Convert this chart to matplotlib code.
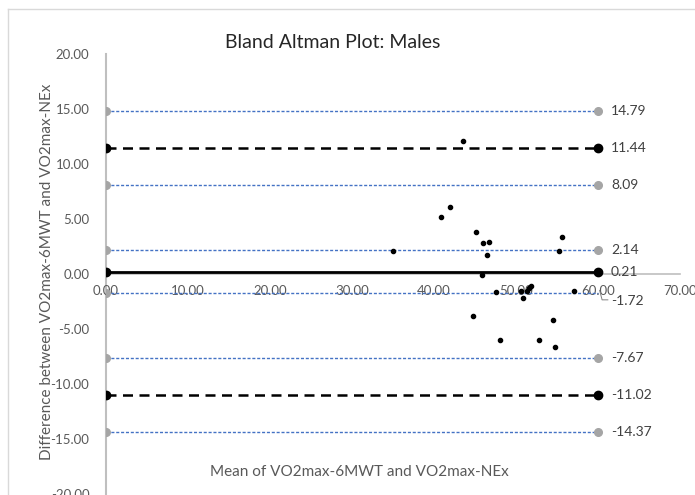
import matplotlib.pyplot as plt
from matplotlib.lines import Line2D
import numpy as np

plt.rcParams['font.family'] = ['Lato', 'DejaVu Sans']

# mean of the two methods / difference between them
mean_vals = [43.5, 40.8, 41.9, 45.1, 46.0, 46.7, 46.5, 35.0, 45.9, 55.6, 55.2, 47.6,
             50.6, 50.9, 51.3, 51.6, 51.8, 57.1, 44.7, 54.5, 48.0, 52.8, 54.8]
diff_vals = [12.12, 5.15, 6.09, 3.79, 2.85, 2.91, 1.70, 2.09, -0.09, 3.36, 2.09, -1.61,
             -1.52, -2.15, -1.52, -1.30, -1.09, -1.55, -3.79, -4.15, -5.97, -5.97, -6.61]

line_x = [0, 60]
bias = 0.21
loa = [11.44, -11.02]
ci_lines = [14.79, 8.09, 2.14, -1.72, -7.67, -14.37]

fig = plt.figure(figsize=(6.95, 4.95), dpi=100)
ax = fig.add_axes([106 / 695, 1 / 495, 574 / 695, 440 / 495])
ax.set_xlim(0, 70)
ax.set_ylim(-20, 20)

# chart border (Excel chart area, cropped on right/bottom)
fig.add_artist(Line2D([8 / 695, 1], [1 - 9 / 495, 1 - 9 / 495], color='#d9d9d9', lw=1))
fig.add_artist(Line2D([8 / 695, 8 / 695], [0, 1 - 9 / 495], color='#d9d9d9', lw=1))

blue = '#4472c4'
for v in ci_lines:
    ax.plot(line_x, [v, v], color=blue, lw=1.0, ls=(0, (2.2, 1.3)), zorder=2)
    if v == -1.72:
        ax.plot([0], [v], 'o', color='#a5a5a5', ms=5.5, zorder=3)
    else:
        ax.plot(line_x, [v, v], 'o', color='#a5a5a5', ms=5.5, zorder=3)

for v in loa:
    ax.plot(line_x, [v, v], color='black', lw=1.8, ls=(0, (4, 2.6)), zorder=3)
    ax.plot(line_x, [v, v], 'o', color='black', ms=6, zorder=4)

ax.plot(line_x, [bias, bias], color='black', lw=2, zorder=3)
ax.plot(line_x, [bias, bias], 'o', color='black', ms=6, zorder=4)

ax.scatter(mean_vals, diff_vals, s=9, color='black', zorder=5)

# value labels at right end
for v in ci_lines + loa + [bias]:
    if v == -1.72:
        continue
    ax.text(61.6, v, '%.2f' % v, va='center', ha='left', fontsize=10, color='#404040')
ax.text(61.6, -2.45, '-1.72', va='center', ha='left', fontsize=10, color='#404040')
ax.plot([60.2, 60.5, 61.2], [-1.5, -2.35, -2.35], color='#808080', lw=0.7)

# axes crossing at zero
for s in ['top', 'right']:
    ax.spines[s].set_visible(False)
ax.spines['left'].set_position(('data', 0))
ax.spines['bottom'].set_position(('data', 0))
ax.spines['left'].set_color('#bfbfbf')
ax.spines['bottom'].set_color('#bfbfbf')
ax.spines['left'].set_linewidth(1.5)
ax.spines['bottom'].set_linewidth(1.2)
ax.spines['left'].set_zorder(1)
ax.spines['bottom'].set_zorder(1)

ax.set_xticks(np.arange(0, 71, 10))
ax.set_yticks(np.arange(-20, 21, 5))
ax.set_xticklabels(['%.2f' % t for t in np.arange(0, 71, 10)])
ax.set_yticklabels(['%.2f' % t for t in np.arange(-20, 21, 5)])
ax.tick_params(axis='both', length=0, labelsize=9.5, labelcolor='#595959')
ax.tick_params(axis='y', pad=12)
ax.tick_params(axis='x', pad=8)
ax.patch.set_alpha(0)

fig.text(333 / 695, 1 - 43 / 495, 'Bland Altman Plot: Males', ha='center', va='center',
         fontsize=14, color='#262626')
fig.text(359 / 695, 1 - 472 / 495, 'Mean of VO2max-6MWT and VO2max-NEx', ha='center',
         va='center', fontsize=11, color='#595959')
fig.text(47 / 695, 1 - 272 / 495, 'Difference between VO2max-6MWT and VO2max-NEx',
         ha='center', va='center', rotation=90, fontsize=11, color='#595959')

fig.savefig('out.png', dpi=100)
